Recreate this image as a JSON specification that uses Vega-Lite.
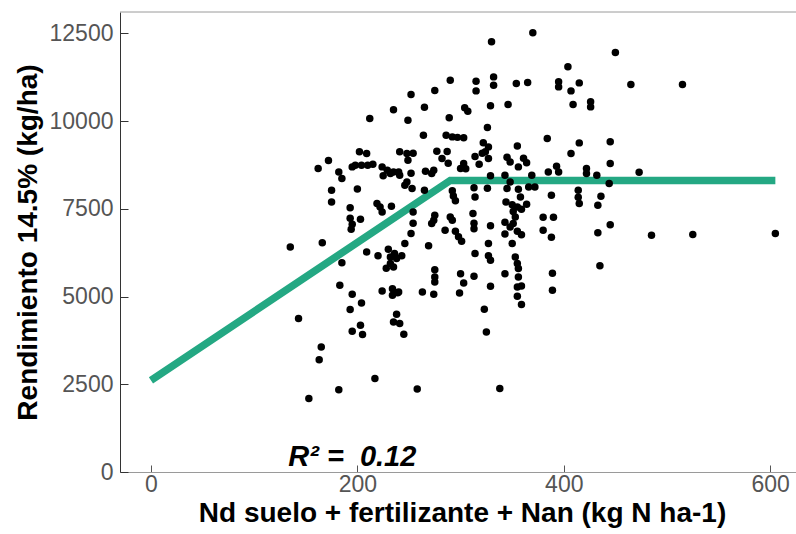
{
  "$schema": "https://vega.github.io/schema/vega-lite/v6.json",
  "width": 676,
  "height": 460,
  "autosize": {"type": "none"},
  "padding": {"left": 120, "top": 12, "right": 0, "bottom": 62},
  "background": "white",
  "config": {"view": {"stroke": null}, "font": "Liberation Sans"},
  "layer": [
    {
      "data": {"values": [{}]},
      "mark": {"type": "rule", "color": "#9a9a9a", "strokeWidth": 1},
      "encoding": {"y": {"datum": 13110, "type": "quantitative"}}
    },
    {
      "data": {"values": [
        {"n": 0, "rend": 2610},
        {"n": 290, "rend": 8310},
        {"n": 605, "rend": 8310}
      ]},
      "mark": {"type": "line", "color": "#24a883", "strokeWidth": 7.5, "strokeCap": "butt", "strokeJoin": "miter"},
      "encoding": {
        "x": {"field": "n", "type": "quantitative"},
        "y": {"field": "rend", "type": "quantitative"}
      }
    },
    {
      "data": {"values": [
        {"n":370,"rend":12516},{"n":330,"rend":12259},{"n":450,"rend":11957},{"n":404,"rend":11547},
        {"n":332,"rend":11261},{"n":290,"rend":11167},{"n":315,"rend":11139},{"n":395,"rend":11119},
        {"n":365,"rend":11102},{"n":415,"rend":11090},{"n":354,"rend":11073},{"n":465,"rend":11045},
        {"n":515,"rend":11045},{"n":332,"rend":11025},{"n":395,"rend":10976},{"n":252,"rend":10760},
        {"n":275,"rend":10874},{"n":315,"rend":10862},{"n":407,"rend":10862},{"n":426,"rend":10549},
        {"n":409,"rend":10475},{"n":346,"rend":10475},{"n":329,"rend":10435},{"n":304,"rend":10383},
        {"n":307,"rend":10284},{"n":426,"rend":10406},{"n":265,"rend":10398},{"n":235,"rend":10326},
        {"n":212,"rend":10075},{"n":249,"rend":10027},{"n":289,"rend":10093},{"n":326,"rend":9819},
        {"n":264,"rend":9599},{"n":286,"rend":9599},{"n":292,"rend":9551},{"n":297,"rend":9537},
        {"n":303,"rend":9528},{"n":384,"rend":9505},{"n":445,"rend":9414},{"n":415,"rend":9380},
        {"n":322,"rend":9386},{"n":327,"rend":9266},{"n":355,"rend":9294},{"n":324,"rend":9129},
        {"n":202,"rend":9129},{"n":209,"rend":9077},{"n":241,"rend":9129},{"n":248,"rend":9077},
        {"n":254,"rend":9086},{"n":249,"rend":8887},{"n":172,"rend":8878},{"n":162,"rend":8650},
        {"n":182,"rend":8553},{"n":185,"rend":8365},{"n":195,"rend":8696},{"n":198,"rend":8744},
        {"n":204,"rend":8744},{"n":210,"rend":8744},{"n":215,"rend":8773},{"n":224,"rend":8696},
        {"n":229,"rend":8601},{"n":232,"rend":8507},{"n":225,"rend":8445},{"n":235,"rend":8553},
        {"n":240,"rend":8553},{"n":241,"rend":8459},{"n":248,"rend":8268},{"n":246,"rend":8174},
        {"n":253,"rend":8080},{"n":266,"rend":8573},{"n":272,"rend":8507},{"n":274,"rend":8601},
        {"n":277,"rend":9143},{"n":287,"rend":9134},{"n":282,"rend":8935},{"n":288,"rend":8801},
        {"n":303,"rend":8793},{"n":300,"rend":8650},{"n":305,"rend":8644},{"n":314,"rend":8992},
        {"n":321,"rend":9086},{"n":318,"rend":8773},{"n":327,"rend":8935},{"n":345,"rend":8972},
        {"n":348,"rend":8838},{"n":356,"rend":8696},{"n":361,"rend":8944},{"n":364,"rend":8815},
        {"n":385,"rend":8553},{"n":393,"rend":8716},{"n":395,"rend":8553},{"n":407,"rend":9077},
        {"n":422,"rend":8650},{"n":422,"rend":8507},{"n":432,"rend":8459},{"n":445,"rend":8793},
        {"n":473,"rend":8545},{"n":252,"rend":8516},{"n":329,"rend":8445},{"n":343,"rend":8459},
        {"n":369,"rend":8459},{"n":175,"rend":8031},{"n":175,"rend":7698},{"n":200,"rend":8068},
        {"n":219,"rend":7652},{"n":222,"rend":7555},{"n":224,"rend":7413},{"n":233,"rend":7575},
        {"n":193,"rend":7532},{"n":193,"rend":7233},{"n":195,"rend":7062},{"n":194,"rend":6919},
        {"n":203,"rend":7204},{"n":254,"rend":7413},{"n":254,"rend":7091},{"n":252,"rend":6797},
        {"n":265,"rend":8031},{"n":292,"rend":8017},{"n":293,"rend":7869},{"n":295,"rend":7732},
        {"n":313,"rend":8103},{"n":314,"rend":7840},{"n":326,"rend":8088},{"n":345,"rend":8080},
        {"n":348,"rend":8268},{"n":356,"rend":8060},{"n":358,"rend":7840},{"n":366,"rend":8125},
        {"n":372,"rend":8125},{"n":388,"rend":7889},{"n":414,"rend":8031},{"n":414,"rend":7832},
        {"n":415,"rend":7652},{"n":436,"rend":7860},{"n":433,"rend":7604},{"n":444,"rend":8222},
        {"n":344,"rend":7698},{"n":350,"rend":7618},{"n":355,"rend":7555},{"n":359,"rend":7490},
        {"n":364,"rend":7632},{"n":351,"rend":7424},{"n":275,"rend":7318},{"n":274,"rend":7176},
        {"n":272,"rend":7082},{"n":290,"rend":7270},{"n":292,"rend":7176},{"n":312,"rend":7367},
        {"n":313,"rend":7091},{"n":313,"rend":6934},{"n":329,"rend":7019},{"n":343,"rend":7119},
        {"n":348,"rend":6985},{"n":351,"rend":7082},{"n":353,"rend":7270},{"n":355,"rend":6862},
        {"n":359,"rend":6763},{"n":343,"rend":6783},{"n":380,"rend":7262},{"n":390,"rend":7262},
        {"n":380,"rend":6891},{"n":388,"rend":6691},{"n":285,"rend":6891},{"n":295,"rend":6862},
        {"n":298,"rend":6706},{"n":301,"rend":6577},{"n":445,"rend":7048},{"n":433,"rend":6820},
        {"n":485,"rend":6748},{"n":525,"rend":6768},{"n":605,"rend":6797},{"n":135,"rend":6415},
        {"n":166,"rend":6535},{"n":246,"rend":6512},{"n":269,"rend":6449},{"n":327,"rend":6512},
        {"n":350,"rend":6512},{"n":209,"rend":6272},{"n":220,"rend":6164},{"n":230,"rend":6349},
        {"n":232,"rend":6130},{"n":236,"rend":6227},{"n":238,"rend":6084},{"n":232,"rend":5942},
        {"n":228,"rend":5807},{"n":235,"rend":5845},{"n":243,"rend":6164},{"n":185,"rend":5964},
        {"n":314,"rend":6227},{"n":327,"rend":6164},{"n":329,"rend":6036},{"n":353,"rend":6130},
        {"n":355,"rend":5942},{"n":356,"rend":5799},{"n":275,"rend":5765},{"n":300,"rend":5651},
        {"n":343,"rend":5651},{"n":389,"rend":5665},{"n":435,"rend":5879},{"n":275,"rend":5559},
        {"n":275,"rend":5417},{"n":263,"rend":5132},{"n":274,"rend":5066},{"n":303,"rend":5388},
        {"n":299,"rend":5103},{"n":313,"rend":5579},{"n":329,"rend":5294},{"n":356,"rend":5559},
        {"n":355,"rend":5274},{"n":359,"rend":5303},{"n":355,"rend":5009},{"n":359,"rend":4773},
        {"n":389,"rend":5180},{"n":323,"rend":4639},{"n":325,"rend":3991},{"n":338,"rend":2378},
        {"n":183,"rend":5323},{"n":195,"rend":5066},{"n":204,"rend":4818},{"n":193,"rend":4630},
        {"n":224,"rend":5160},{"n":234,"rend":5223},{"n":234,"rend":5038},{"n":239,"rend":5109},
        {"n":240,"rend":5132},{"n":143,"rend":4373},{"n":203,"rend":4182},{"n":195,"rend":4011},
        {"n":205,"rend":3917},{"n":238,"rend":4496},{"n":235,"rend":4277},{"n":241,"rend":4231},
        {"n":245,"rend":3926},{"n":165,"rend":3564},{"n":163,"rend":3199},{"n":217,"rend":2663},
        {"n":182,"rend":2344},{"n":153,"rend":2093},{"n":258,"rend":2366}
      ]},
      "mark": {"type": "circle", "color": "black", "opacity": 1, "size": 56},
      "encoding": {
        "x": {
          "field": "n", "type": "quantitative",
          "scale": {"domain": [-30, 625], "nice": false, "zero": false},
          "axis": {
            "values": [0, 200, 400, 600],
            "format": "d",
            "grid": false,
            "domainColor": "#9a9a9a",
            "tickColor": "#555555",
            "tickSize": -7,
            "labelPadding": 8,
            "labelFontSize": 23,
            "labelColor": "#555555",
            "title": "Nd suelo + fertilizante + Nan (kg N ha-1)",
            "titleFontSize": 28,
            "titleFontWeight": "bold",
            "titleColor": "black",
            "titleX": 342,
            "titleY": 49,
            "titleAlign": "center",
            "titleBaseline": "alphabetic"
          }
        },
        "y": {
          "field": "rend", "type": "quantitative",
          "scale": {"domain": [0, 13110], "nice": false, "zero": false},
          "axis": {
            "values": [0, 2500, 5000, 7500, 10000, 12500],
            "format": "d",
            "grid": false,
            "domainColor": "#333333",
            "tickColor": "#333333",
            "tickSize": -8,
            "labelPadding": 15,
            "labelFontSize": 23,
            "labelColor": "#555555",
            "title": "Rendimiento 14.5% (kg/ha)",
            "titleFontSize": 28,
            "titleFontWeight": "bold",
            "titleColor": "black",
            "titleX": -84,
            "titleY": 230,
            "titleAlign": "center",
            "titleBaseline": "alphabetic",
            "titleAngle": -90
          }
        }
      }
    },
    {
      "data": {"values": [{}]},
      "mark": {"type": "text", "text": "R² =\u00a0 0.12", "fontSize": 29, "fontStyle": "italic", "fontWeight": "bold", "align": "left", "baseline": "alphabetic", "color": "black"},
      "encoding": {
        "x": {"datum": 133, "type": "quantitative"},
        "y": {"datum": 160, "type": "quantitative"}
      }
    }
  ]
}
